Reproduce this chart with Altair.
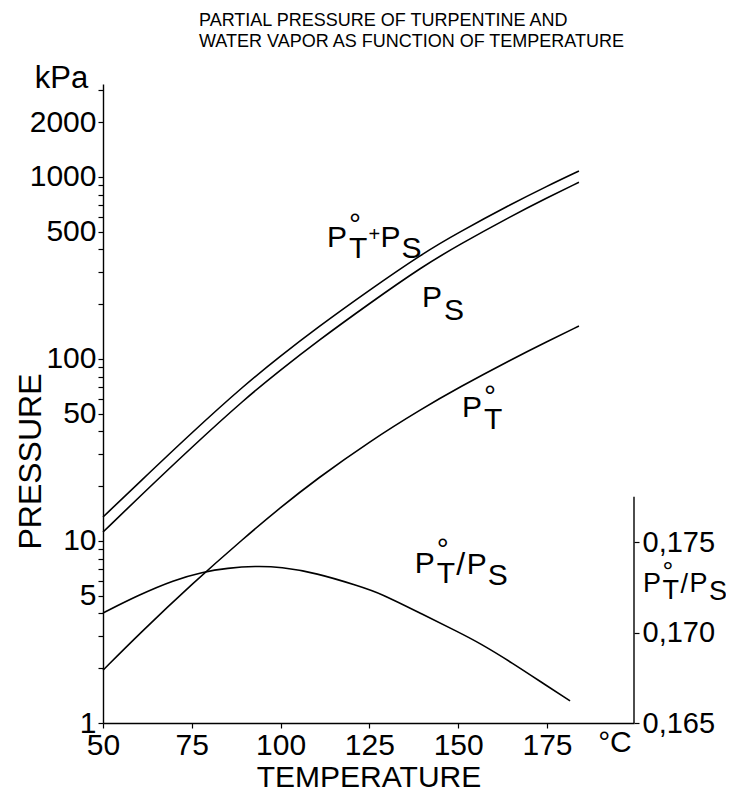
import altair as alt
import pandas as pd

FONT = "Liberation Sans, Arial, sans-serif"

# ---- data ----
temps = [50, 60, 75, 90, 100, 110, 125, 140, 150, 165, 175, 184]
p_sum = [13.55, 20.8, 39.4, 72.4, 104.0, 147.2, 239.3, 380.2, 494.3, 710.5, 890.6, 1078.9]   # P_T + P_S
p_s = [11.2, 17.3, 32.8, 60.5, 87.1, 123.6, 201.8, 322.8, 421.7, 610.4, 768.4, 935.4]      # P_S
p_t = [1.95, 3.06, 5.80, 10.5, 15.3, 21.8, 35.2, 53.6, 69.4, 99.4, 124.6, 151.7]           # P_T

ratio_temps = [50, 60, 70, 78, 85, 93, 100, 110, 122, 128, 140, 150, 156, 165, 175, 181.5]
ratio_vals = [0.17108, 0.17207, 0.1729, 0.17334, 0.17356, 0.17367, 0.17362, 0.17329,
              0.17257, 0.17218, 0.17100, 0.17003, 0.16942, 0.16835, 0.16705, 0.16622]

x_ticks = [50, 75, 100, 125, 150, 175]
y_major = [1, 5, 10, 50, 100, 500, 1000, 2000]
y_ticks = [1, 2, 3, 4, 5, 6, 7, 8, 9, 10, 20, 30, 40, 50, 60, 70, 80, 90,
           100, 200, 300, 400, 500, 600, 700, 800, 900, 1000, 2000, 3000]
r_ticks = [0.165, 0.170, 0.175]

X_DOMAIN = [50, 199.5]
Y_DOMAIN = [1, 3243]
R_DOMAIN = [0.165, 0.200304]
R_AXIS_TOP = 0.1775

title_lines = ["PARTIAL PRESSURE OF TURPENTINE AND",
               "WATER VAPOR AS FUNCTION OF TEMPERATURE"]

W, H = 531, 639


def xs():
    return alt.Scale(domain=X_DOMAIN, nice=False, zero=False)


def ys():
    return alt.Scale(type="log", domain=Y_DOMAIN, nice=False)


def rs():
    return alt.Scale(domain=R_DOMAIN, nice=False, zero=False)


rows = []
for name, vals in [("sum", p_sum), ("ps", p_s), ("pt", p_t)]:
    for t, v in zip(temps, vals):
        rows.append({"T": t, "V": v, "series": name})
df = pd.DataFrame(rows)

major_expr = "indexof([" + ",".join(str(v) for v in y_major) + "], datum.value) >= 0 ? datum.value : ''"

lines = alt.Chart(df).mark_line(color="black", strokeWidth=1.6, interpolate="basis").encode(
    x=alt.X("T:Q", scale=xs(), axis=alt.Axis(
        values=x_ticks, title="TEMPERATURE", labelFontSize=30, titleFontSize=30,
        tickSize=5, labelPadding=2, titlePadding=2, labelFlush=False)),
    y=alt.Y("V:Q", scale=ys(), axis=alt.Axis(
        values=y_ticks, labelExpr=major_expr, labelOverlap=False, labelFontSize=30,
        tickSize=5, labelPadding=2, title="PRESSURE", titleFontSize=32,
        titleAngle=270, titleX=-63, titleY=377, titleAlign="center", titleBaseline="alphabetic")),
    detail="series:N",
)


def pieces_layer(T, V, pieces, scale_fn):
    """Each piece: (text, dx, dy, fontSize, lineHeight). '\n' stacks a degree sign over a subscript."""
    out = []
    for txt, dx, dy, size, lh in pieces:
        d = pd.DataFrame({"T": [T], "V": [V], "txt": [txt]})
        out.append(alt.Chart(d).mark_text(
            align="left", baseline="alphabetic", dx=dx, dy=dy, fontSize=size,
            lineBreak="\n", lineHeight=lh, font=FONT, color="black").encode(
            x=alt.X("T:Q", scale=xs()),
            y=alt.Y("V:Q", scale=scale_fn(), axis=None),
            text="txt:N"))
    return out


# label anchors (temperature, value) and pieces (text, dx, dy, size, lineHeight)
lab_sum = pieces_layer(113.1, 412.5, [
    ("P", 0, 0, 30, 30), ("°\nT", 22, -13, 30, 24), ("+", 41.5, -6, 20, 20),
    ("P", 53.5, 0, 30, 30), ("S", 74.5, 11, 30, 30)], ys)
lab_ps = pieces_layer(139.8, 193.1, [
    ("P", 0, 0, 30, 30), ("S", 22, 13, 30, 30)], ys)
lab_pt = pieces_layer(151.1, 48.0, [
    ("P", 0, 0, 30, 30), ("°\nT", 22, -11, 30, 23)], ys)
lab_ratio = pieces_layer(137.8, 6.67, [
    ("P", 0, 0, 30, 30), ("°\nT", 22, -14, 30, 24), ("/", 41.5, 2, 32, 32),
    ("P", 52, 1, 30, 30), ("S", 73, 12, 30, 30)], ys)
lab_kpa = pieces_layer(30.8, 3083, [("kPa", 0, 0, 31, 31)], ys)
lab_degc = pieces_layer(189.4, 0.693, [("°C", 0, 0, 30, 30)], ys)

# ratio curve on the right-hand scale
rdf = pd.DataFrame({"T": ratio_temps, "R": ratio_vals})
ratio_line = alt.Chart(rdf).mark_line(color="black", strokeWidth=1.6, interpolate="basis").encode(
    x=alt.X("T:Q", scale=xs()),
    y=alt.Y("R:Q", scale=rs(), axis=alt.Axis(
        orient="right", values=r_ticks, domain=False, tickSize=5, labelPadding=3,
        labelFontSize=29, title=None,
        labelExpr="replace(format(datum.value, '.3f'), '.', ',')")),
)
rule_df = pd.DataFrame({"T": [X_DOMAIN[1]], "R": [R_DOMAIN[0]], "R2": [R_AXIS_TOP]})
ratio_rule = alt.Chart(rule_df).mark_rule(color="black", strokeWidth=1.4).encode(
    x=alt.X("T:Q", scale=xs()), y=alt.Y("R:Q", scale=rs(), axis=None), y2="R2:Q")
lab_rtitle = pieces_layer(202.0, 0.172238, [
    ("P", 0, 0, 27, 27), ("°\nT", 19.5, -11, 27, 18), ("/", 37.5, 1, 27, 27),
    ("P", 46.5, 0, 27, 27), ("S", 66, 8, 27, 27)], rs)

chart = alt.layer(
    lines, ratio_line, ratio_rule,
    *lab_sum, *lab_ps, *lab_pt, *lab_ratio, *lab_kpa, *lab_degc, *lab_rtitle,
).resolve_scale(y="independent").properties(
    width=W, height=H,
    title=alt.TitleParams(text=title_lines, anchor="start", frame="group", dx=96, dy=-10,
                          fontSize=18, font=FONT, fontWeight="normal", lineHeight=21,
                          offset=2, color="black"),
    autosize=alt.AutoSizeParams(type="none"),
    padding={"left": 95, "top": 76, "right": 92, "bottom": 72},
).configure_view(stroke=None).configure_axis(
    grid=False, domainColor="black", tickColor="black", labelColor="black",
    titleColor="black", labelFont=FONT, titleFont=FONT, titleFontWeight="normal",
    domainWidth=1.4, tickWidth=1.2,
)

chart.save("out.html", embed_options={"renderer": "svg", "actions": False})
